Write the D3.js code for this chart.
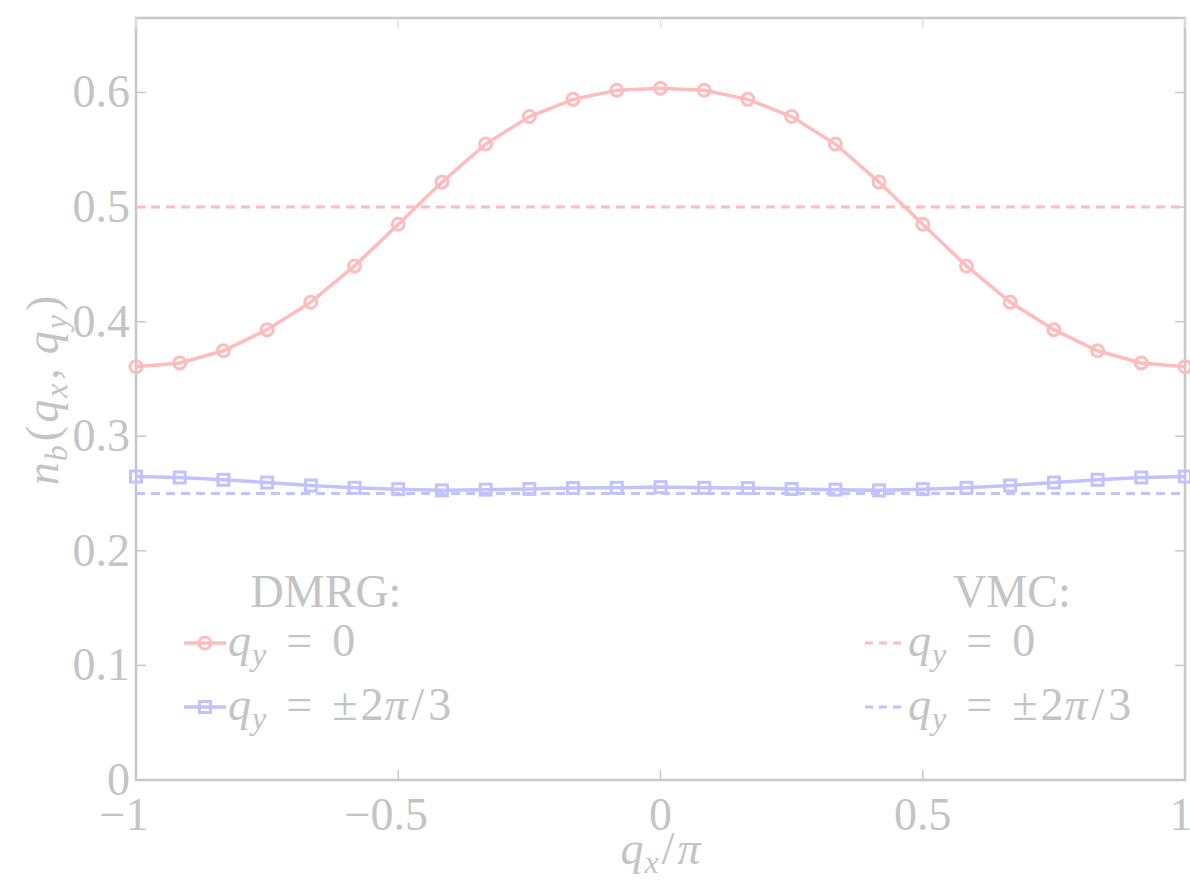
<!DOCTYPE html>
<html>
<head>
<meta charset="utf-8">
<script src="https://cdn.jsdelivr.net/npm/d3@7"></script>
<style>
  html, body { margin: 0; padding: 0; background: #fff; }
  svg text { font-family: "Liberation Serif", "DejaVu Serif", serif; fill: #c4c4c4; }
  .math { font-style: italic; }
</style>
</head>
<body>
<div id="chart"></div>
<script>
// q_x / pi sample points (25, step 1/12)
const qx = d3.range(25).map((i) => -1 + i / 12);

// DMRG, q_y = 0
const dmrgZero = [
  0.3606, 0.364, 0.3746, 0.393, 0.417, 0.4486, 0.485, 0.5218, 0.555, 0.579, 0.594, 0.602,
  0.6037,
  0.602, 0.594, 0.579, 0.555, 0.5218, 0.485, 0.4486, 0.417, 0.393, 0.3746, 0.364, 0.3606,
];

// DMRG, q_y = ±2π/3
const dmrgTwoThirds = [
  0.2648, 0.264, 0.262, 0.2596, 0.257, 0.255, 0.2538, 0.2528, 0.2534, 0.254, 0.2548, 0.255,
  0.2556,
  0.255, 0.2548, 0.254, 0.2534, 0.2528, 0.2538, 0.255, 0.257, 0.2596, 0.262, 0.264, 0.2648,
];

// VMC constants
const vmcZero = 0.5;
const vmcTwoThirds = 0.25;

const xTicks = [-1, -0.5, 0, 0.5, 1];
const yTicks = [0, 0.1, 0.2, 0.3, 0.4, 0.5, 0.6];

const red = "#ffbcbc";
const blue = "#c2c2ff";
const axisColor = "#c8c8c8";

const width = 1190, height = 880;
const margin = { left: 136, right: 5, top: 18, bottom: 100 };
const fs = 46, sub = 32;

const svg = d3.select("#chart").append("svg")
  .attr("width", width)
  .attr("height", height);

const x = d3.scaleLinear().domain([-1, 1]).range([margin.left, width - margin.right]);
const y = d3.scaleLinear().domain([0, 0.665]).range([height - margin.bottom, margin.top]);

const fmt = (d) => (d < 0 ? "\u2212" : "") + Math.abs(d);

// frame
svg.append("rect")
  .attr("x", x(-1)).attr("y", y(0.665))
  .attr("width", x(1) - x(-1)).attr("height", y(0) - y(0.665))
  .attr("fill", "none").attr("stroke", axisColor).attr("stroke-width", 2.5);

// ticks (inward) on all four sides
const tl = 10;
const tickG = svg.append("g").attr("stroke", axisColor).attr("stroke-width", 1.5);
xTicks.forEach((t) => {
  tickG.append("line").attr("x1", x(t)).attr("x2", x(t)).attr("y1", y(0)).attr("y2", y(0) - tl);
  tickG.append("line").attr("x1", x(t)).attr("x2", x(t)).attr("y1", y(0.665)).attr("y2", y(0.665) + tl).attr("stroke", "#e0e0e0");
});
yTicks.forEach((t) => {
  tickG.append("line").attr("x1", x(-1)).attr("x2", x(-1) + tl).attr("y1", y(t)).attr("y2", y(t));
  tickG.append("line").attr("x1", x(1)).attr("x2", x(1) - tl).attr("y1", y(t)).attr("y2", y(t));
});

// tick labels
svg.append("g").selectAll("text").data(xTicks).join("text")
  .attr("x", (d) => x(d) - (d < 0 ? 12 : 0) - (d === 1 ? 4 : 0))
  .attr("y", y(0) + 50)
  .attr("text-anchor", "middle")
  .attr("font-size", fs)
  .text(fmt);

svg.append("g").selectAll("text").data(yTicks).join("text")
  .attr("x", x(-1) - 6)
  .attr("y", (d) => y(d) + 15)
  .attr("text-anchor", "end")
  .attr("font-size", fs)
  .text((d) => d3.format("")(d));

// math text helper: parts are [text, italic, subscript, dx]
function mathText(t, parts) {
  let lowered = false;
  parts.forEach(([s, it, isSub, dx]) => {
    const sp = t.append("tspan").text(s);
    if (it) sp.attr("class", "math");
    if (isSub) {
      sp.attr("font-size", sub).attr("dy", lowered ? 0 : 9);
      lowered = true;
    } else if (lowered) {
      sp.attr("dy", -9);
      lowered = false;
    }
    if (dx) sp.attr("dx", dx);
  });
}

// axis titles
const xl = svg.append("text")
  .attr("x", x(0)).attr("y", 864)
  .attr("text-anchor", "middle").attr("font-size", fs);
mathText(xl, [["q", 1, 0], ["x", 1, 1, 1], ["/", 0, 0, 3], ["π", 1, 0, 3]]);

const yl = svg.append("text")
  .attr("transform", `translate(58,${y(0.34)}) rotate(-90)`)
  .attr("text-anchor", "middle").attr("font-size", fs);
mathText(yl, [["n", 1, 0], ["b", 1, 1, 1], ["(", 0, 0, 4], ["q", 1, 0, 3], ["x", 1, 1, 2],
  [",", 0, 0, 4], ["q", 1, 0, 14], ["y", 1, 1, 2], [")", 0, 0, 4]]);

// VMC dashed lines
const dash = "9,6";
[[vmcZero, red], [vmcTwoThirds, blue]].forEach(([v, c]) => {
  svg.append("line")
    .attr("x1", x(-1)).attr("x2", x(1))
    .attr("y1", y(v)).attr("y2", y(v))
    .attr("stroke", c).attr("stroke-width", 3).attr("stroke-dasharray", dash);
});

// DMRG lines
const line = d3.line().x((d, i) => x(qx[i])).y((d) => y(d));
svg.append("path").datum(dmrgZero).attr("d", line)
  .attr("fill", "none").attr("stroke", red).attr("stroke-width", 3.5);
svg.append("path").datum(dmrgTwoThirds).attr("d", line)
  .attr("fill", "none").attr("stroke", blue).attr("stroke-width", 3.5);

svg.append("g").selectAll("circle").data(dmrgZero).join("circle")
  .attr("cx", (d, i) => x(qx[i])).attr("cy", (d) => y(d)).attr("r", 6)
  .attr("fill", "none").attr("stroke", red).attr("stroke-width", 3);

svg.append("g").selectAll("rect").data(dmrgTwoThirds).join("rect")
  .attr("x", (d, i) => x(qx[i]) - 5.5).attr("y", (d) => y(d) - 5.5)
  .attr("width", 11).attr("height", 11)
  .attr("fill", "none").attr("stroke", blue).attr("stroke-width", 3);

// legend
function qyLabel(g, lx, ly, rhs) {
  const t = g.append("text").attr("x", lx).attr("y", ly).attr("font-size", fs);
  const parts = [["q", 1, 0], ["y", 1, 1, 1], ["=", 0, 0, 20]];
  if (rhs === "0") {
    parts.push(["0", 0, 0, 20]);
  } else {
    parts.push(["±", 0, 0, 20], ["2", 0, 0, 3], ["π", 1, 0, 1], ["/", 0, 0, 4], ["3", 0, 0, 4]);
  }
  mathText(t, parts);
}

const leg = svg.append("g");
leg.append("text").attr("x", 326).attr("y", 607).attr("text-anchor", "middle").attr("font-size", fs).text("DMRG:");
leg.append("text").attr("x", 1012).attr("y", 607).attr("text-anchor", "middle").attr("font-size", fs).text("VMC:");

// DMRG entries
leg.append("line").attr("x1", 184).attr("x2", 226).attr("y1", 643).attr("y2", 643)
  .attr("stroke", red).attr("stroke-width", 3.5);
leg.append("circle").attr("cx", 205).attr("cy", 643).attr("r", 6)
  .attr("fill", "none").attr("stroke", red).attr("stroke-width", 3);
qyLabel(leg, 228, 656, "0");

leg.append("line").attr("x1", 184).attr("x2", 226).attr("y1", 707).attr("y2", 707)
  .attr("stroke", blue).attr("stroke-width", 3.5);
leg.append("rect").attr("x", 199.5).attr("y", 701.5).attr("width", 11).attr("height", 11)
  .attr("fill", "none").attr("stroke", blue).attr("stroke-width", 3);
qyLabel(leg, 228, 720, "±2π/3");

// VMC entries
leg.append("line").attr("x1", 865).attr("x2", 906).attr("y1", 643).attr("y2", 643)
  .attr("stroke", red).attr("stroke-width", 3).attr("stroke-dasharray", "8,6");
qyLabel(leg, 908, 656, "0");
leg.append("line").attr("x1", 865).attr("x2", 906).attr("y1", 707).attr("y2", 707)
  .attr("stroke", blue).attr("stroke-width", 3).attr("stroke-dasharray", "8,6");
qyLabel(leg, 908, 720, "±2π/3");
</script>
</body>
</html>
